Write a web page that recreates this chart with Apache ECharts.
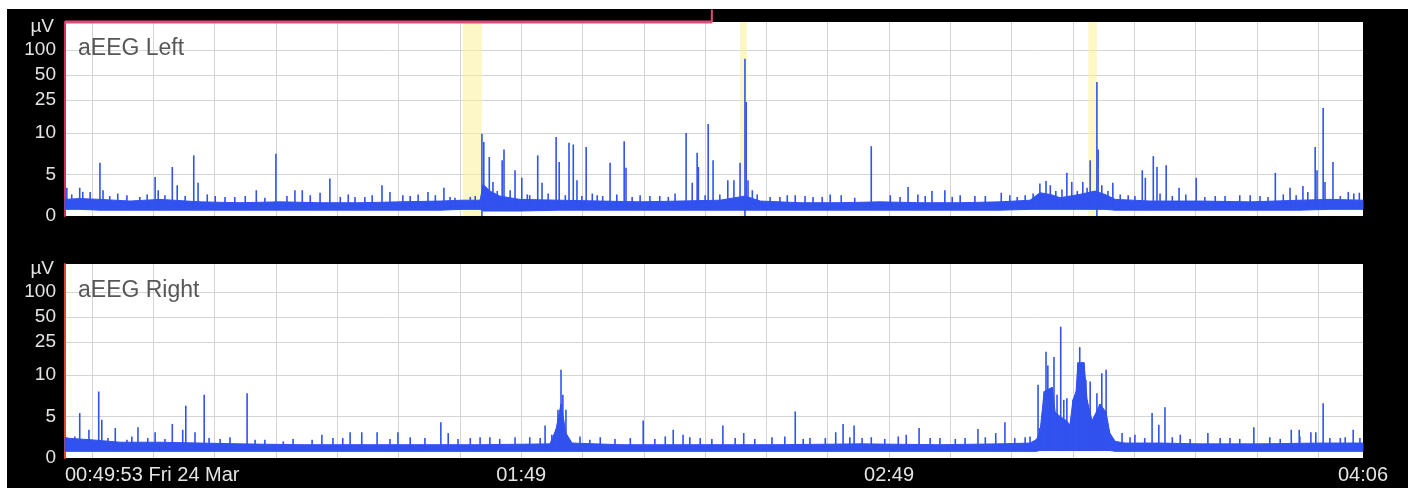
<!DOCTYPE html>
<html>
<head>
<meta charset="utf-8">
<script src="https://cdn.jsdelivr.net/npm/echarts@6/dist/echarts.min.js"></script>
<style>
html,body{margin:0;padding:0;background:#fff;}
#frame{position:absolute;left:7px;top:9px;width:1401px;height:479px;background:#000;}
#c{position:absolute;left:0;top:0;width:1411px;height:493px;}
</style>
</head>
<body>
<div id="frame"></div>
<div id="c"></div>
<script>
// ---------- axes (time in minutes after midnight, amplitude in µV) ----------
const X_MIN = 34.6, X_MAX = 246.3;
const xTickValues = [34.6, 109, 169, 246.3];
const xTickLabels = ['00:49:53 Fri 24 Mar', '01:49', '02:49', '04:06'];
const xGridValues = [39, 49, 59, 69, 79, 89, 99, 109, 119, 129, 139, 149, 159, 169, 179, 189, 199, 209, 219, 229, 239];
const yTickValues = [0, 5, 10, 25, 50, 100];
const yGridValues = [5, 10, 25, 50, 100];
const Y_TOP_UV = 216;

// ---------- aEEG Left ----------
const leftBandTime = [34.6,37.0,40.3,45.2,50.1,56.6,63.1,69.7,76.2,82.7,89.2,95.8,99.4,102.3,102.8,103.9,105.5,108.8,115.3,121.9,128.4,134.9,141.4,145.5,148.0,154.5,161.0,167.5,174.1,180.6,187.1,192.0,193.6,195.3,196.9,200.1,202.6,204.2,205.9,211.6,219.7,227.9,236.0,240.9,246.3];
const leftBandHigh = [2.0,2.1,2.0,1.8,2.0,1.7,1.6,1.7,1.6,1.6,1.7,1.8,1.9,1.9,3.8,3.0,2.4,2.0,1.9,1.8,1.7,1.8,1.9,2.4,1.8,1.6,1.6,1.7,1.6,1.6,1.7,1.9,2.8,2.6,2.2,2.6,3.0,2.6,2.0,1.8,1.8,1.7,1.9,2.0,1.9];
const leftBandLow  = [0.8,0.8,0.7,0.7,0.7,0.7,0.7,0.7,0.7,0.7,0.7,0.7,0.8,0.8,0.6,0.6,0.6,0.6,0.7,0.7,0.7,0.7,0.7,0.7,0.7,0.7,0.7,0.7,0.7,0.7,0.7,0.8,0.8,0.8,0.8,0.8,0.8,0.8,0.7,0.7,0.7,0.7,0.7,0.8,0.8];
const leftSpikes = [
  [34.9,3.4],[37.0,3.4],[37.5,2.9],[38.7,2.9],[40.3,6.4],[40.8,3.1],[44.7,2.5],[49.3,4.7],[49.8,3.1],[52.1,5.9],[52.9,3.7],[55.6,7.3],[56.3,4.0],[59.1,2.4],[62.3,2.3],[65.8,3.1],[69.0,7.5],[70.8,2.4],[72.1,3.1],[73.3,3.1],[76.2,2.8],[77.8,4.5],[81.9,2.3],[84.7,2.5],[86.3,3.7],[87.6,2.9],
  [89.7,2.5],[93.8,2.9],[96.4,3.4],[98.2,2.2],[100.7,2.3],[102.6,9.9],[102.9,8.9],[103.8,7.1],[104.4,4.1],[105.9,6.7],[106.2,8.0],[107.2,3.1],[108.0,5.5],[109.1,4.6],[110.4,2.5],[111.7,7.3],[112.4,4.0],[114.7,9.5],[115.2,6.5],[116.8,8.8],[117.5,8.6],[118.1,4.3],[119.6,8.3],[121.4,2.5],[123.5,6.4],[125.8,9.0],[126.1,5.8],[128.4,2.5],[131.6,2.4],[134.1,2.7],[135.9,10],[136.9,4.0],[137.7,7.6],[137.9,5.9],[139.5,12.8],[140.3,6.7],[142.7,4.3],[143.7,4.3],[144.7,6.4],[145.5,78],[145.7,23.6],[146.0,4.3],[146.7,3.1],[149.6,2.3],[152.4,2.5],[155.3,2.4],[156.6,2.3],[161.2,2.5],
  [166.1,8.4],[172.1,3.5],[176.0,3.0],[178.1,3.1],[180.6,2.5],[183.0,2.4],[187.3,2.8],
  [191.2,2.5],[193.6,3.9],[194.6,4.2],[195.3,3.7],[198.0,5.2],[198.8,4.1],[200.6,4.1],[201.8,6.7],[202.9,41],[203.1,8.0],[203.7,3.7],[205.5,4.0],[208.0,2.5],[210.3,5.5],[210.8,4.6],[212.1,7.2],[212.7,5.9],[214.2,6.1],[216.3,3.4],[219.1,4.6],[222.2,2.4],[226.2,2.5],[229.5,2.4],[232.0,5.2],[234.4,3.4],[236.5,3.6],[238.5,8.3],[238.8,5.5],[239.8,20],[240.1,4.1],[241.4,6.5],[243.9,2.9],[245.7,2.8],
  [35.7,2.6],[41.9,2.4],[43.2,2.7],[46.8,2.3],[48.0,2.6],[50.9,2.5],[54.2,2.4],[57.8,2.6],[60.7,2.3],[64.0,2.4],[67.2,2.2],[74.6,2.5],[79.5,2.3],[80.8,2.6],[83.5,2.3],[90.9,2.4],[92.2,2.6],[95.0,2.5],[97.4,2.3],[101.5,2.4],[105.1,3.0],[110.0,2.6],[113.4,2.7],[116.2,2.5],[118.9,2.4],[120.6,2.7],[122.3,2.4],[124.6,2.6],[127.1,2.3],[130.0,2.4],[133.0,2.3],[139.0,2.5],[141.4,2.6],[147.5,2.6],[151.2,2.3],[153.7,2.5],[158.1,2.3],[159.4,2.6],[163.4,2.2],[169.2,2.5],[170.8,2.3],[173.7,2.6],[174.9,2.4],[179.3,2.3],[184.7,2.4],[188.7,2.5],[189.9,2.3],[192.5,2.7],[196.2,3.0],[197.2,3.2],[199.7,3.0],[201.3,3.4],[204.7,3.0],[206.7,2.6],[209.1,2.4],[213.2,2.7],[215.2,2.4],[217.4,2.6],[220.5,2.3],[223.8,2.4],[227.9,2.5],[230.8,2.3],[233.3,2.6],[235.4,2.5],[237.3,2.9],[242.6,2.4],[244.8,2.7]
];
const leftDips = [102.6, 145.5, 202.9];
const leftEvents = [[99.5, 102.6], [144.7, 145.8], [201.5, 202.9]];
const leftMarkerSpan = [34.6, 140.1];

// ---------- aEEG Right ----------
const rightBandTime = [34.6,38.7,43.6,50.1,56.6,63.1,72.9,82.7,92.5,102.3,113.7,114.7,115.5,116.3,117.3,125.1,138.2,151.2,164.3,177.3,187.1,192.0,193.0,193.6,194.3,195.6,196.1,196.9,197.9,198.5,199.0,199.5,199.8,200.8,201.3,202.1,202.8,203.4,204.4,205.0,205.9,207.5,213.2,219.7,229.5,239.3,246.3];
const rightBandHigh = [2.4,2.2,1.9,1.9,1.8,1.7,1.6,1.6,1.6,1.6,1.7,3.5,6.5,3.0,1.8,1.6,1.6,1.6,1.7,1.6,1.7,1.8,2.2,3.0,8.0,8.5,5.5,5.0,4.5,4.0,7.0,8.0,14,14,7.0,4.5,5.5,6.5,5.5,3.0,2.0,1.8,1.8,1.7,1.7,1.8,1.8];
const rightBandLow  = [0.8,0.8,0.8,0.8,0.8,0.8,0.8,0.8,0.8,0.8,0.8,0.8,0.8,0.8,0.8,0.8,0.8,0.8,0.8,0.8,0.8,0.8,0.8,0.9,0.9,0.9,0.9,0.9,0.9,0.9,0.9,0.9,0.9,0.9,0.9,0.9,0.9,0.9,0.9,0.9,0.8,0.8,0.8,0.8,0.8,0.8,0.8];
const rightSpikes = [
  [34.9,2.5],[37.0,5.4],[38.5,3.4],[40.1,8.0],[40.6,4.6],[42.8,3.6],[44.7,2.2],[46.5,3.7],[48.1,2.4],[49.3,3.1],[52.1,4.1],[53.8,3.4],[54.3,6.3],[55.8,3.1],[57.3,7.6],[58.1,2.4],[64.3,7.8],[65.6,2.2],[70.2,2.0],[76.5,2.8],[78.3,2.4],[81.1,3.1],[83.0,3.1],[85.5,3.1],[88.9,3.1],
  [95.9,4.3],[97.1,3.0],[100.7,2.4],[103.9,2.5],[110.4,2.5],[112.9,3.9],[114.0,2.8],[115.0,5.8],[115.5,11.5],[115.8,7.6],[116.3,5.8],[121.9,2.5],[128.9,4.5],[133.8,3.4],[135.4,2.8],[138.2,2.4],[141.9,3.9],[145.3,3.0],[149.9,2.5],[153.7,5.6],[156.1,2.4],[160.3,3.1],[161.5,4.1],[163.3,3.9],[166.1,2.5],[171.8,2.8],[173.9,3.6],[177.3,2.4],
  [183.5,3.5],[186.4,3.0],[187.9,4.3],[191.2,2.5],[193.3,8.8],[193.5,3.6],[194.6,19],[194.9,13],[195.4,8.2],[195.9,16.4],[196.4,7.6],[197.0,38],[197.5,7.0],[198.0,7.2],[199.2,7.0],[200.1,21.6],[200.6,14.3],[201.1,9.4],[201.8,9.2],[202.9,7.8],[203.7,10.5],[204.4,11.5],[204.9,3.4],[207.0,3.0],[209.1,2.8],[211.9,5.4],[213.0,4.0],[214.0,6.1],[216.5,2.8],[221.0,3.0],[224.6,2.4],[228.5,3.7],[234.6,3.4],[235.9,3.4],[237.8,3.1],[238.6,3.1],[239.8,6.6],[242.6,2.4],[244.7,3.4],
  [36.2,2.6],[41.6,2.4],[45.5,2.6],[50.9,2.3],[59.9,2.3],[61.5,2.5],[67.2,2.2],[71.8,2.3],[74.9,2.2],[79.9,2.4],[87.6,2.3],[90.9,2.5],[93.3,2.4],[98.7,2.3],[102.3,2.5],[105.5,2.3],[108.0,2.5],[112.1,2.4],[118.6,2.6],[120.2,2.2],[124.3,2.3],[126.8,2.4],[130.8,2.3],[132.5,2.6],[136.5,2.5],[140.1,2.3],[143.9,2.4],[147.1,2.3],[152.0,2.6],[155.0,2.3],[158.6,2.4],[162.6,2.5],[164.6,2.4],[168.3,2.3],[170.5,2.6],[175.7,2.4],[179.8,2.3],[181.4,2.4],[184.7,2.5],[189.5,2.4],[192.0,2.6],[208.3,2.5],[210.7,2.4],[215.2,2.5],[218.1,2.3],[223.0,2.4],[226.2,2.3],[231.1,2.5],[232.8,2.3],[236.0,2.6],[240.9,2.4],[243.4,2.5],[245.8,2.4]
];
const rightDips = [];

// ---------- semi-log aEEG scale: linear 0-10 µV, logarithmic above ----------
const T = v => v <= 10 ? v : 10 + 10 * Math.log10(v / 10);
const Tinv = t => t <= 10 ? t : 10 * Math.pow(10, (t - 10) / 10);
const Y_MAX = T(Y_TOP_UV);

const BLUE = '#3152ee';
const GRIDC = '#d4d4d4';
const LABELC = '#e4e4e4';
const FONT = '"Liberation Sans", Arial, Helvetica, sans-serif';

function yAxis(gi, edgeColor) {
  return {
    type: 'value', gridIndex: gi, min: 0, max: Y_MAX,
    name: 'µV', nameLocation: 'end', nameGap: -5,
    nameTextStyle: { color: LABELC, fontSize: 19, fontFamily: FONT, align: 'right', verticalAlign: 'middle', padding: [0, 11, 0, 0] },
    axisLine: { show: true, lineStyle: { color: edgeColor, width: 2 } },
    axisTick: { show: false, customValues: yGridValues.map(T) },
    axisLabel: {
      customValues: yTickValues.map(T),
      formatter: v => String(Math.round(Tinv(v))),
      color: LABELC, fontSize: 19, fontFamily: FONT, margin: 9
    },
    splitLine: { show: true, lineStyle: { color: GRIDC, width: 1 } }
  };
}
function xAxis(gi, showLabels) {
  return {
    type: 'value', gridIndex: gi, min: X_MIN, max: X_MAX,
    axisLine: { show: false },
    axisTick: { show: false, customValues: xGridValues },
    axisLabel: showLabels ? {
      customValues: xTickValues,
      formatter: v => { const i = xTickValues.findIndex(x => Math.abs(x - v) < 0.01); return i >= 0 ? xTickLabels[i] : ''; },
      color: LABELC, fontSize: 20, fontFamily: FONT, margin: 7,
      alignMinLabel: 'left', alignMaxLabel: 'center'
    } : { show: false },
    splitLine: { show: true, lineStyle: { color: GRIDC, width: 1 } }
  };
}
// band between the lower and upper margin of the aEEG trace (one quad per segment)
function bandSeries(gi, times, lows, highs, extra) {
  const data = [];
  for (let i = 0; i < times.length - 1; i++) {
    data.push([times[i], T(lows[i]), T(highs[i]), times[i + 1], T(lows[i + 1]), T(highs[i + 1])]);
  }
  return Object.assign({
    type: 'custom', xAxisIndex: gi, yAxisIndex: gi, silent: true,
    encode: { x: [0, 3], y: [1, 2, 4, 5] },
    renderItem: (params, api) => {
      const p = [
        api.coord([api.value(0), api.value(2)]),
        api.coord([api.value(3), api.value(5)]),
        api.coord([api.value(3), api.value(4)]),
        api.coord([api.value(0), api.value(1)])
      ];
      return { type: 'polygon', shape: { points: p }, style: { fill: BLUE, stroke: BLUE, lineWidth: 1 } };
    },
    data: data
  }, extra || {});
}
function spikeSeries(gi, spikes, dips) {
  const base = 1.0;
  const data = spikes.map(s => [s[0], T(base), T(s[1])]);
  dips.forEach(t => data.push([t, 0, T(base)]));
  return {
    type: 'custom', xAxisIndex: gi, yAxisIndex: gi, silent: true,
    encode: { x: 0, y: [1, 2] },
    renderItem: (params, api) => {
      const a = api.coord([api.value(0), api.value(1)]);
      const b = api.coord([api.value(0), api.value(2)]);
      return { type: 'line', shape: { x1: a[0], y1: a[1], x2: b[0], y2: b[1] }, style: { stroke: BLUE, lineWidth: 1.6 } };
    },
    data: data
  };
}

const chart = echarts.init(document.getElementById('c'), null, { renderer: 'canvas' });
const option = {
  animation: false,
  backgroundColor: 'transparent',
  title: [
    { text: 'aEEG Left', left: 78, top: 37, padding: 0, textStyle: { color: '#575757', fontSize: 23, fontWeight: 'normal', fontFamily: FONT } },
    { text: 'aEEG Right', left: 78, top: 279, padding: 0, textStyle: { color: '#575757', fontSize: 23, fontWeight: 'normal', fontFamily: FONT } }
  ],
  grid: [
    { left: 65, right: 48, top: 22, height: 194, show: true, backgroundColor: '#fff', borderWidth: 0 },
    { left: 65, right: 48, top: 264, height: 194, show: true, backgroundColor: '#fff', borderWidth: 0 }
  ],
  xAxis: [xAxis(0, false), xAxis(1, true)],
  yAxis: [yAxis(0, '#d8305c'), yAxis(1, '#dc4a2c')],
  series: [
    bandSeries(0, leftBandTime, leftBandLow, leftBandHigh, {
      markArea: {
        silent: true,
        itemStyle: { color: 'rgba(250, 240, 150, 0.55)' },
        data: leftEvents.map(e => [{ xAxis: e[0] }, { xAxis: e[1] }])
      }
    }),
    spikeSeries(0, leftSpikes, leftDips),
    {
      type: 'line', xAxisIndex: 0, yAxisIndex: 0, silent: true, clip: false, z: 10,
      symbol: 'none', showSymbol: true,
      lineStyle: { color: '#e04a7c', width: 3 },
      itemStyle: { color: '#e04a7c' },
      data: [
        { value: [leftMarkerSpan[0], Y_MAX], symbol: 'none' },
        { value: [leftMarkerSpan[1], Y_MAX], symbol: 'rect', symbolSize: [2, 13], symbolOffset: [0, -6] }
      ]
    },
    bandSeries(1, rightBandTime, rightBandLow, rightBandHigh),
    spikeSeries(1, rightSpikes, rightDips)
  ]
};
chart.setOption(option);
</script>
</body>
</html>
